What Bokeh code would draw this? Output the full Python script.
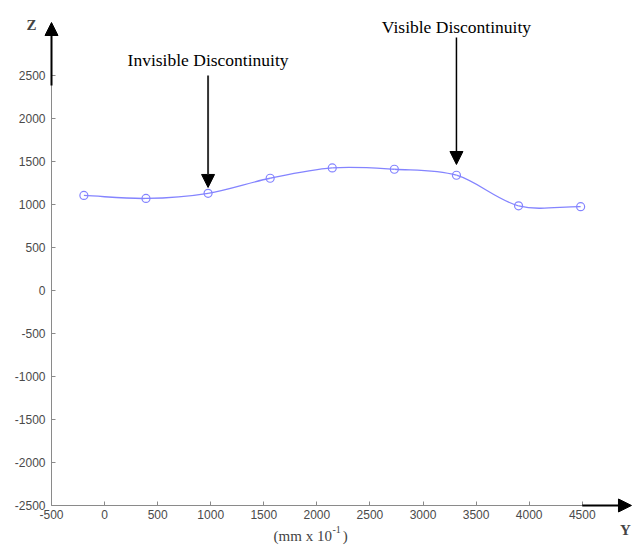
from bokeh.plotting import figure
from bokeh.models import Arrow, NormalHead, Label, FixedTicker, Range1d, LinearAxis
from bokeh.embed import file_html
from bokeh.resources import INLINE
import numpy as np

# Data
y_pos = [-195, 390, 975, 1560, 2145, 2730, 3315, 3900, 4485]
z_val = [1105, 1070, 1130, 1305, 1425, 1410, 1340, 985, 975]
x_ticks = [-500, 0, 500, 1000, 1500, 2000, 2500, 3000, 3500, 4000, 4500]
z_ticks = [-2500, -2000, -1500, -1000, -500, 0, 500, 1000, 1500, 2000, 2500]
invisible_at = 975
visible_at = 3315

p = figure(width=633, height=546, output_backend="svg", toolbar_location=None,
           x_range=Range1d(-980.5, 4983), y_range=Range1d(-2977, 3372),
           x_axis_location=None, y_axis_location=None,
           min_border_left=0, min_border_right=0, min_border_top=0, min_border_bottom=0)
p.outline_line_color = None
p.grid.visible = False
p.background_fill_color = "white"

xaxis = LinearAxis(fixed_location=-2500, bounds=(-500, 4500))
yaxis = LinearAxis(fixed_location=-500, bounds=(-2500, 2500))
for ax, ticks in ((xaxis, x_ticks), (yaxis, z_ticks)):
    ax.ticker = FixedTicker(ticks=ticks)
    ax.major_label_overrides = {t: str(t) for t in ticks}
    ax.axis_line_color = "#8a8a8a"
    ax.major_tick_line_color = "#8a8a8a"
    ax.major_tick_in = 4
    ax.major_tick_out = 0
    ax.minor_tick_line_color = None
    ax.major_label_text_font = "Liberation Sans"
    ax.major_label_text_font_size = "12px"
    ax.major_label_text_color = "#4a4a4a"
xaxis.major_label_standoff = 5
yaxis.major_label_standoff = 6
p.add_layout(xaxis, "below")
p.add_layout(yaxis, "left")

# Smooth curve (Catmull-Rom bezier through the data points)
xs = np.array(y_pos, dtype=float)
ys = np.array(z_val, dtype=float)
n = len(xs)
tx = np.empty(n); ty = np.empty(n)
tx[1:-1] = (xs[2:] - xs[:-2]) / 2; ty[1:-1] = (ys[2:] - ys[:-2]) / 2
tx[0] = xs[1] - xs[0]; ty[0] = ys[1] - ys[0]
tx[-1] = xs[-1] - xs[-2]; ty[-1] = ys[-1] - ys[-2]
col = "#8484ff"
p.bezier(x0=xs[:-1], y0=ys[:-1], x1=xs[1:], y1=ys[1:],
         cx0=xs[:-1] + tx[:-1] / 3, cy0=ys[:-1] + ty[:-1] / 3,
         cx1=xs[1:] - tx[1:] / 3, cy1=ys[1:] - ty[1:] / 3,
         line_color=col, line_width=1.3)
p.scatter(y_pos, z_val, marker="circle", size=8, fill_color=None, line_color=col, line_width=1.2)

def head():
    return NormalHead(size=13, fill_color="black", line_color="black")

# Axis arrows
p.add_layout(Arrow(end=head(), x_start=-500, y_start=2384, x_end=-500, y_end=3116,
                   line_color="black", line_width=2))
p.add_layout(Arrow(end=head(), x_start=4500, y_start=-2500, x_end=4964, y_end=-2500,
                   line_color="black", line_width=2))

# Annotation arrows
p.add_layout(Arrow(end=head(), x_start=invisible_at, y_start=2500, x_end=invisible_at, y_end=1198,
                   line_color="#333333", line_width=2))
p.add_layout(Arrow(end=head(), x_start=visible_at, y_start=2942, x_end=visible_at, y_end=1465,
                   line_color="black", line_width=1.5))

serif = "Liberation Serif"
p.add_layout(Label(x=invisible_at, y=2675, text="Invisible Discontinuity", text_font=serif,
                   text_font_size="17.5px", text_align="center", text_baseline="alphabetic",
                   text_color="black"))
p.add_layout(Label(x=visible_at, y=3065, text="Visible Discontinuity", text_font=serif,
                   text_font_size="17.5px", text_align="center", text_baseline="alphabetic",
                   text_color="black"))
p.add_layout(Label(x=-735, y=3090, text="Z", text_font=serif, text_font_size="15px",
                   text_font_style="bold", text_align="left", text_baseline="alphabetic"))
p.add_layout(Label(x=4855, y=-2790, text="Y", text_font=serif, text_font_size="15px",
                   text_font_style="bold", text_align="left", text_baseline="alphabetic"))
p.add_layout(Label(x=1592, y=-2855, text="(mm x 10", text_font=serif, text_font_size="15px",
                   text_align="left", text_baseline="alphabetic"))
p.add_layout(Label(x=2147, y=-2785, text="-1", text_font=serif, text_font_size="10px",
                   text_align="left", text_baseline="alphabetic"))
p.add_layout(Label(x=2245, y=-2855, text=")", text_font=serif, text_font_size="15px",
                   text_align="left", text_baseline="alphabetic"))

open("out.html", "w").write(file_html(p, INLINE))
